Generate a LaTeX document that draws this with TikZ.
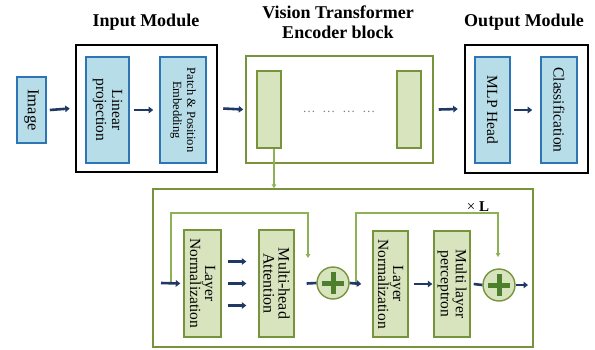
\documentclass[tikz,border=0pt]{standalone}
\usepackage{fontspec}
\setmainfont{Liberation Serif}
\usetikzlibrary{arrows.meta}
\definecolor{bluefill}{HTML}{B7DDE8}
\definecolor{blueline}{HTML}{2E75B6}
\definecolor{greenfill}{HTML}{D7E4BD}
\definecolor{greenline}{HTML}{77933C}
\definecolor{navy}{HTML}{1F3864}
\definecolor{plusgreen}{HTML}{4E7F2C}
\definecolor{skipgreen}{HTML}{8DB255}
\begin{document}
\begin{tikzpicture}[x=1pt,y=-1pt,
 bluebox/.style={draw=blueline,fill=bluefill,line width=1.6pt,inner sep=0pt},
 greenbox/.style={draw=greenline,fill=greenfill,line width=1.4pt,inner sep=0pt},
 modbox/.style={draw=black,line width=2.5pt,inner sep=0pt,fill=white},
 framebox/.style={draw=greenline,line width=1.5pt,inner sep=0pt,fill=white},
 vtext/.style={rotate=-90,align=center,font=\fontsize{15.5}{15}\selectfont,inner sep=0pt},
 titletext/.style={font=\fontsize{18}{20}\selectfont\bfseries,align=center},
 navyarrow/.style={draw=navy,line width=2.6pt,-{Triangle[length=4.5pt,width=6.5pt]}},
 navyline/.style={draw=navy,line width=2.6pt},
 skip/.style={draw=skipgreen,line width=1.3pt,-{Triangle[length=4pt,width=4.5pt]}},
 plus/.style={circle,draw=greenline,fill=greenfill,line width=1.4pt,minimum size=32pt,inner sep=0pt},
 plussign/.style={draw=plusgreen,line width=5pt},
]
\useasboundingbox (0,0) rectangle (595,349);

% titles
\node[titletext] (tin) at (146,22) {Input Module};
\node[titletext] (tvt) at (338,22) {Vision Transformer\\Encoder block};
\node[titletext] (tout) at (524,22) {Output Module};

% module frames
\node[modbox, minimum width=141pt, minimum height=127pt] (inmod) at (146.5,108.5) {};
\node[framebox, minimum width=187pt, minimum height=107pt] (vt) at (339.5,109.5) {};
\node[modbox, minimum width=123pt, minimum height=128pt] (outmod) at (526.5,109) {};
\node[framebox, minimum width=380pt, minimum height=158pt] (enc) at (343,268) {};

% top row boxes
\node[bluebox, minimum width=29pt, minimum height=66pt] (img) at (31.5,110) {};
\node[vtext, font=\fontsize{16.5}{16}\selectfont] (imgt) at (img.center) {Image};
\node[bluebox, minimum width=43pt, minimum height=106pt] (lin) at (107.5,110) {};
\node[vtext, font=\fontsize{15.5}{16}\selectfont] (lint) at (lin.center) {Linear\\projection};
\node[bluebox, minimum width=46pt, minimum height=106pt] (patch) at (183,110) {};
\node[vtext, font=\fontsize{12.5}{14}\selectfont] (patcht) at (patch.center) {Patch \& Position\\Embedding};
\node[greenbox, minimum width=24pt, minimum height=77pt] (enc1) at (269,109.5) {};
\node[greenbox, minimum width=24pt, minimum height=77pt] (enc2) at (409,109.5) {};
\node[text=gray, font=\fontsize{13}{13}\selectfont, inner sep=0pt] (dots) at (339,112) {…\hspace{7pt}…\hspace{7pt}…\hspace{7pt}…};
\node[bluebox, minimum width=35pt, minimum height=106pt] (mlph) at (492.5,110) {};
\node[vtext] (mlpht) at (mlph.center) {MLP Head};
\node[bluebox, minimum width=36pt, minimum height=106pt] (cls) at (559,110) {};
\node[vtext] (clst) at (cls.center) {Classification};

% top row arrows
\draw[navyarrow] ([xshift=3pt]img.east) -- ([xshift=-5pt]inmod.west);
\draw[navyarrow] ([xshift=4pt]lin.east) -- ([xshift=-6pt]patch.west);
\draw[navyarrow] ([xshift=5pt]inmod.east) -- ([xshift=-2pt]vt.west);
\draw[navyarrow] ([xshift=5pt]vt.east) -- ([xshift=-6pt]outmod.west);
\draw[navyarrow] ([xshift=3pt]mlph.east) -- ([xshift=-8pt]cls.west);
\draw[skip] ([xshift=5pt]enc1.south) -- ([xshift=5pt]enc1.south |- enc.north);

% encoder detail
\node[greenbox, minimum width=37pt, minimum height=107pt] (ln1) at (202.5,283.5) {};
\node[vtext] (ln1t) at (ln1.center) {Layer\\Normalization};
\node[greenbox, minimum width=35pt, minimum height=107pt] (mha) at (276.5,283.5) {};
\node[vtext, font=\fontsize{16}{15}\selectfont] (mhat) at (mha.center) {Multi-head\\Attention};
\node[plus] (p1) at (333,283) {};
\draw[plussign] ([xshift=-11pt]p1.center) -- ([xshift=11pt]p1.center);
\draw[plussign] ([yshift=-11pt]p1.center) -- ([yshift=11pt]p1.center);
\node[greenbox, minimum width=35pt, minimum height=106pt] (ln2) at (390.5,284) {};
\node[vtext] (ln2t) at (ln2.center) {Layer\\Normalization};
\node[greenbox, minimum width=36pt, minimum height=106pt] (mlp) at (452,284) {};
\node[vtext] (mlpt) at (mlp.center) {Multi layer\\perceptron};
\node[plus] (p2) at (499,285) {};
\draw[plussign] ([xshift=-11pt]p2.center) -- ([xshift=11pt]p2.center);
\draw[plussign] ([yshift=-11pt]p2.center) -- ([yshift=11pt]p2.center);
\node[font=\fontsize{15}{15}\selectfont, inner sep=0pt] (times) at (478,207) {× \textbf{L}};

\coordinate (in1) at (161,283);
\coordinate (s1) at (171,283);
\coordinate (s1end) at (308,258);
\coordinate (s2) at (356,283);
\coordinate (s2end) at (498,257);
\coordinate (outend) at (528,285);

\draw[skip] (s1) |- (308,213) -- (s1end);
\draw[skip] (s2) |- (498,213) -- (s2end);
\draw[navyarrow] (in1) -- ([xshift=-3pt]ln1.west);
\draw[navyarrow] ([xshift=6pt,yshift=22pt]ln1.east) -- ([xshift=-12pt,yshift=22pt]mha.west);
\draw[navyarrow] ([xshift=6pt]ln1.east) -- ([xshift=-12pt]mha.west);
\draw[navyarrow] ([xshift=6pt,yshift=-22pt]ln1.east) -- ([xshift=-12pt,yshift=-22pt]mha.west);
\draw[navyline] ([xshift=12pt]mha.east) -- (p1.west);
\draw[navyarrow] (p1.east) -- ([xshift=-11pt]ln2.west);
\draw[navyarrow] ([xshift=5pt]ln2.east) -- ([xshift=-1pt]mlp.west);
\draw[navyline] ([xshift=3pt]mlp.east) -- (p2.west);
\draw[navyarrow] (p2.east) -- (outend);
\end{tikzpicture}
\end{document}
